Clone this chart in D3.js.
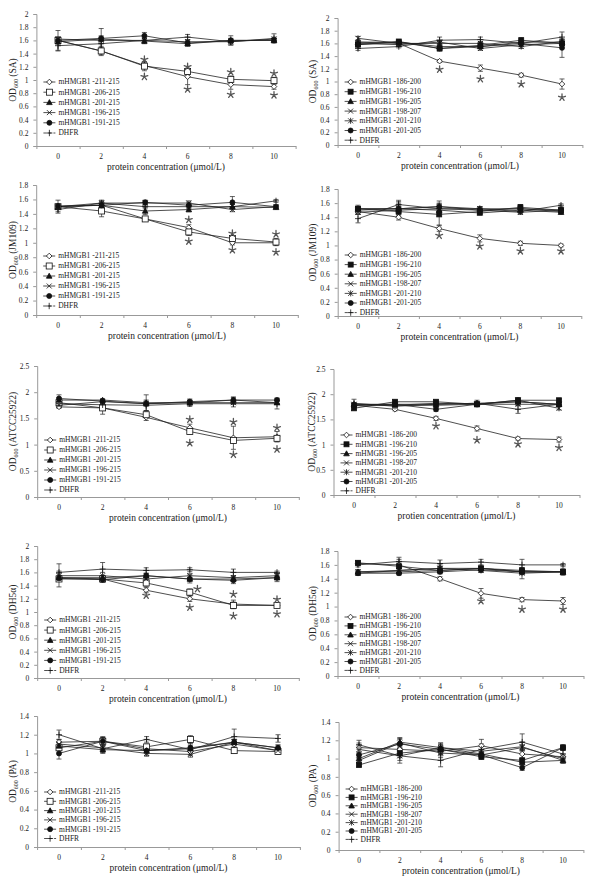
<!DOCTYPE html>
<html>
<head>
<meta charset="utf-8">
<script src="https://cdn.jsdelivr.net/npm/d3@7"></script>
<style>
  body { margin: 0; background: #fff; }
  text { font-family: "Liberation Serif", "Times New Roman", serif; fill: #222; }
</style>
</head>
<body>
<svg id="chart" width="600" height="883"></svg>
<script>
// x categories (protein concentration, umol/L)
const concentrations = [0, 2, 4, 6, 8, 10];

// series names + marker shapes
const leftNames = ['mHMGB1 -211-215', 'mHMGB1 -206-215', 'mHMGB1 -201-215', 'mHMGB1 -196-215', 'mHMGB1 -191-215', 'DHFR'];
const leftShapes = ['diamond', 'square', 'triangle', 'cross', 'circle', 'plus'];
const rightNames = ['mHMGB1 -186-200', 'mHMGB1 -196-210', 'mHMGB1 -196-205', 'mHMGB1 -198-207', 'mHMGB1 -201-210', 'mHMGB1 -201-205', 'DHFR'];
const rightShapes = ['diamond', 'squareFilled', 'triangle', 'cross', 'asterisk', 'circle', 'plus'];

// y tick labels
const ticksTo2 = [0, 0.2, 0.4, 0.6, 0.8, 1, 1.2, 1.4, 1.6, 1.8, 2];
const ticksTo18 = [0, 0.2, 0.4, 0.6, 0.8, 1, 1.2, 1.4, 1.6, 1.8];
const ticksTo25 = [0, 0.5, 1, 1.5, 2, 2.5];
const ticksTo14 = [0, 0.2, 0.4, 0.6, 0.8, 1, 1.2, 1.4];

// SA
const saLeftVals = [
  [1.60, 1.44, 1.22, 1.05, 0.93, 0.90],
  [1.60, 1.44, 1.21, 1.13, 1.01, 0.99],
  [1.58, 1.62, 1.59, 1.55, 1.60, 1.60],
  [1.62, 1.60, 1.60, 1.58, 1.58, 1.62],
  [1.60, 1.63, 1.67, 1.56, 1.60, 1.60],
  [1.52, 1.55, 1.60, 1.65, 1.58, 1.63]];
const saLeftErrs = [
  [0.05, 0.05, 0.05, 0.12, 0.07, 0.04],
  [0.05, 0.07, 0.07, 0.05, 0.05, 0.05],
  [0.03, 0.03, 0.03, 0.04, 0.03, 0.03],
  [0.03, 0.05, 0.03, 0.03, 0.03, 0.03],
  [0.15, 0.15, 0.05, 0.03, 0.07, 0.03],
  [0.08, 0.12, 0.05, 0.04, 0.05, 0.07]];
const saLeftStars = [[4, 1.31], [4, 1.05], [6, 1.20], [6, 0.86], [8, 1.12], [8, 0.78], [10, 1.10], [10, 0.77]];

const saRightVals = [
  [1.62, 1.60, 1.32, 1.21, 1.10, 0.96],
  [1.58, 1.63, 1.52, 1.57, 1.65, 1.60],
  [1.62, 1.62, 1.55, 1.55, 1.62, 1.62],
  [1.60, 1.58, 1.62, 1.52, 1.58, 1.60],
  [1.68, 1.60, 1.60, 1.60, 1.55, 1.63],
  [1.58, 1.62, 1.52, 1.55, 1.60, 1.53],
  [1.52, 1.55, 1.65, 1.66, 1.60, 1.70]];
const saRightErrs = [
  [0.03, 0.03, 0.02, 0.05, 0.03, 0.08],
  [0.03, 0.02, 0.04, 0.03, 0.04, 0.03],
  [0.03, 0.02, 0.03, 0.03, 0.03, 0.03],
  [0.02, 0.02, 0.03, 0.03, 0.03, 0.03],
  [0.03, 0.02, 0.03, 0.03, 0.03, 0.03],
  [0.03, 0.02, 0.03, 0.03, 0.03, 0.15],
  [0.03, 0.02, 0.05, 0.04, 0.04, 0.08]];
const saRightStars = [[4, 1.19], [6, 1.04], [8, 0.96], [10, 0.75]];

// JM109
const jmLeftVals = [
  [1.50, 1.52, 1.33, 1.21, 1.00, 1.00],
  [1.50, 1.44, 1.33, 1.15, 1.06, 1.01],
  [1.50, 1.52, 1.44, 1.46, 1.50, 1.49],
  [1.50, 1.55, 1.55, 1.55, 1.46, 1.50],
  [1.51, 1.52, 1.56, 1.52, 1.56, 1.50],
  [1.46, 1.55, 1.50, 1.50, 1.50, 1.58]];
const jmLeftErrs = [
  [0.03, 0.03, 0.03, 0.04, 0.03, 0.03],
  [0.03, 0.08, 0.03, 0.05, 0.04, 0.05],
  [0.03, 0.03, 0.05, 0.03, 0.03, 0.02],
  [0.03, 0.03, 0.03, 0.03, 0.03, 0.02],
  [0.08, 0.05, 0.03, 0.04, 0.08, 0.02],
  [0.05, 0.04, 0.03, 0.03, 0.03, 0.02]];
const jmLeftStars = [[6, 1.32], [6, 1.02], [8, 1.13], [8, 0.90], [10, 1.12], [10, 0.87]];

const jmRightVals = [
  [1.48, 1.40, 1.24, 1.10, 1.03, 1.00],
  [1.52, 1.48, 1.44, 1.48, 1.54, 1.50],
  [1.52, 1.52, 1.50, 1.46, 1.50, 1.47],
  [1.47, 1.50, 1.52, 1.50, 1.47, 1.50],
  [1.50, 1.52, 1.55, 1.52, 1.52, 1.48],
  [1.52, 1.52, 1.55, 1.50, 1.52, 1.50],
  [1.38, 1.58, 1.52, 1.52, 1.48, 1.57]];
const jmRightErrs = [
  [0.03, 0.04, 0.04, 0.05, 0.03, 0.02],
  [0.03, 0.03, 0.15, 0.03, 0.04, 0.03],
  [0.03, 0.03, 0.03, 0.03, 0.03, 0.02],
  [0.03, 0.10, 0.03, 0.03, 0.03, 0.03],
  [0.03, 0.10, 0.05, 0.03, 0.03, 0.03],
  [0.05, 0.05, 0.08, 0.04, 0.06, 0.03],
  [0.06, 0.06, 0.04, 0.03, 0.03, 0.02]];
const jmRightStars = [[4, 1.14], [6, 0.99], [8, 0.92], [10, 0.92]];

// ATCC25922
const atLeftVals = [
  [1.72, 1.70, 1.52, 1.32, 1.13, 1.15],
  [1.80, 1.70, 1.57, 1.25, 1.08, 1.12],
  [1.85, 1.85, 1.80, 1.80, 1.85, 1.80],
  [1.75, 1.82, 1.78, 1.80, 1.80, 1.80],
  [1.88, 1.83, 1.78, 1.82, 1.85, 1.85],
  [1.78, 1.76, 1.75, 1.78, 1.78, 1.78]];
const atLeftErrs = [
  [0.03, 0.12, 0.06, 0.07, 0.22, 0.10],
  [0.03, 0.05, 0.05, 0.05, 0.05, 0.05],
  [0.05, 0.03, 0.15, 0.05, 0.05, 0.03],
  [0.03, 0.03, 0.03, 0.03, 0.03, 0.03],
  [0.07, 0.03, 0.05, 0.05, 0.06, 0.04],
  [0.05, 0.03, 0.10, 0.05, 0.06, 0.10]];
const atLeftStars = [[6, 1.48], [6, 1.03], [8, 1.43], [8, 0.81], [10, 1.32], [10, 0.91]];

const atRightVals = [
  [1.78, 1.70, 1.52, 1.32, 1.12, 1.10],
  [1.72, 1.85, 1.85, 1.80, 1.88, 1.88],
  [1.80, 1.80, 1.80, 1.82, 1.85, 1.80],
  [1.78, 1.78, 1.78, 1.80, 1.80, 1.80],
  [1.80, 1.78, 1.82, 1.80, 1.88, 1.72],
  [1.78, 1.80, 1.70, 1.80, 1.85, 1.80],
  [1.82, 1.76, 1.80, 1.82, 1.70, 1.80]];
const atRightErrs = [
  [0.03, 0.03, 0.04, 0.05, 0.03, 0.05],
  [0.03, 0.03, 0.03, 0.03, 0.04, 0.03],
  [0.03, 0.03, 0.03, 0.03, 0.04, 0.03],
  [0.03, 0.03, 0.03, 0.05, 0.03, 0.03],
  [0.03, 0.03, 0.03, 0.03, 0.05, 0.03],
  [0.03, 0.03, 0.04, 0.03, 0.04, 0.03],
  [0.08, 0.05, 0.05, 0.06, 0.08, 0.04]];
const atRightStars = [[4, 1.37], [6, 1.09], [8, 1.01], [10, 0.94]];

// DH5a
const dhLeftVals = [
  [1.52, 1.50, 1.33, 1.20, 1.12, 1.10],
  [1.50, 1.50, 1.44, 1.30, 1.10, 1.10],
  [1.52, 1.52, 1.55, 1.50, 1.50, 1.52],
  [1.55, 1.55, 1.50, 1.55, 1.52, 1.55],
  [1.51, 1.49, 1.55, 1.50, 1.48, 1.52],
  [1.60, 1.65, 1.63, 1.64, 1.60, 1.60]];
const dhLeftErrs = [
  [0.03, 0.04, 0.04, 0.04, 0.06, 0.03],
  [0.12, 0.05, 0.05, 0.05, 0.05, 0.03],
  [0.03, 0.03, 0.03, 0.03, 0.03, 0.03],
  [0.03, 0.05, 0.03, 0.03, 0.03, 0.03],
  [0.03, 0.03, 0.03, 0.06, 0.05, 0.06],
  [0.13, 0.10, 0.04, 0.03, 0.05, 0.02]];
const dhLeftStars = [[4, 1.25], [6.35, 1.35], [6, 1.07], [8, 1.27], [8, 0.94], [10, 1.19], [10, 0.97]];

const dhRightVals = [
  [1.62, 1.60, 1.40, 1.19, 1.10, 1.08],
  [1.63, 1.58, 1.52, 1.55, 1.52, 1.50],
  [1.50, 1.50, 1.52, 1.55, 1.50, 1.50],
  [1.48, 1.52, 1.55, 1.55, 1.50, 1.50],
  [1.50, 1.52, 1.55, 1.52, 1.48, 1.50],
  [1.48, 1.48, 1.50, 1.53, 1.50, 1.50],
  [1.60, 1.65, 1.62, 1.64, 1.60, 1.60]];
const dhRightErrs = [
  [0.03, 0.03, 0.03, 0.07, 0.03, 0.05],
  [0.03, 0.10, 0.03, 0.03, 0.04, 0.03],
  [0.03, 0.03, 0.03, 0.03, 0.03, 0.03],
  [0.03, 0.03, 0.05, 0.03, 0.03, 0.05],
  [0.03, 0.03, 0.03, 0.03, 0.08, 0.03],
  [0.03, 0.03, 0.03, 0.03, 0.03, 0.03],
  [0.03, 0.06, 0.05, 0.04, 0.08, 0.02]];
const dhRightStars = [[6, 1.08], [8, 0.96], [10, 0.96]];

// PA
const paLeftVals = [
  [1.12, 1.13, 1.05, 1.02, 1.10, 1.03],
  [1.06, 1.13, 1.07, 1.15, 1.03, 1.02],
  [1.08, 1.04, 1.03, 1.05, 1.12, 1.06],
  [1.10, 1.06, 1.00, 0.99, 1.12, 1.03],
  [1.00, 1.13, 1.03, 1.06, 1.12, 1.06],
  [1.20, 1.05, 1.15, 1.04, 1.18, 1.16]];
const paLeftErrs = [
  [0.03, 0.04, 0.03, 0.04, 0.03, 0.03],
  [0.03, 0.04, 0.03, 0.04, 0.03, 0.03],
  [0.03, 0.03, 0.03, 0.03, 0.03, 0.03],
  [0.03, 0.03, 0.03, 0.03, 0.03, 0.03],
  [0.06, 0.05, 0.05, 0.05, 0.03, 0.03],
  [0.05, 0.05, 0.03, 0.05, 0.08, 0.04]];
const paLeftStars = [];

const paRightVals = [
  [1.12, 1.10, 1.08, 1.14, 1.05, 1.02],
  [0.93, 1.06, 1.10, 1.02, 0.98, 1.12],
  [1.00, 1.18, 1.12, 1.05, 0.96, 0.98],
  [1.10, 1.03, 1.12, 1.08, 1.13, 0.98],
  [0.98, 1.17, 1.06, 1.04, 1.12, 1.00],
  [1.04, 1.16, 1.10, 1.04, 0.90, 1.12],
  [1.15, 1.03, 0.98, 1.10, 1.18, 1.05]];
const paRightErrs = [
  [0.05, 0.05, 0.05, 0.07, 0.05, 0.03],
  [0.02, 0.05, 0.05, 0.03, 0.03, 0.03],
  [0.03, 0.05, 0.05, 0.03, 0.03, 0.03],
  [0.05, 0.05, 0.05, 0.05, 0.05, 0.03],
  [0.03, 0.05, 0.05, 0.03, 0.03, 0.03],
  [0.03, 0.05, 0.05, 0.03, 0.03, 0.03],
  [0.05, 0.08, 0.07, 0.06, 0.09, 0.05]];
const paRightStars = [];

// layout of each panel (pixels) + which data it uses
const panels = [
  { c0: 58, c10: 274, yTop: 14, yZero: 146, lgTop: 82, lgStep: 10.2, ylX: 13, strain: 'SA', xl: 'protein concentration (μmol/L)',
    vals: saLeftVals, errs: saLeftErrs, stars: saLeftStars, ticks: ticksTo2, names: leftNames, shapes: leftShapes },
  { c0: 358, c10: 562, yTop: 18, yZero: 145, lgTop: 82, lgStep: 9.7, ylX: 313, strain: 'SA', xl: 'protein concentration (μmol/L)',
    vals: saRightVals, errs: saRightErrs, stars: saRightStars, ticks: ticksTo2, names: rightNames, shapes: rightShapes },
  { c0: 58, c10: 276, yTop: 185, yZero: 315, lgTop: 256, lgStep: 10, ylX: 13, strain: 'JM109', xl: 'protein concentration (μmol/L)',
    vals: jmLeftVals, errs: jmLeftErrs, stars: jmLeftStars, ticks: ticksTo18, names: leftNames, shapes: leftShapes },
  { c0: 358, c10: 561, yTop: 189, yZero: 316, lgTop: 255, lgStep: 9.6, ylX: 313, strain: 'JM109', xl: 'protein concentration (μmol/L)',
    vals: jmRightVals, errs: jmRightErrs, stars: jmRightStars, ticks: ticksTo18, names: rightNames, shapes: rightShapes },
  { c0: 59, c10: 277, yTop: 366, yZero: 497, lgTop: 440, lgStep: 10, ylX: 13, strain: 'ATCC25922', xl: 'protein concentration (μmol/L)',
    vals: atLeftVals, errs: atLeftErrs, stars: atLeftStars, ticks: ticksTo25, names: leftNames, shapes: leftShapes },
  { c0: 354, c10: 559, yTop: 369, yZero: 495, lgTop: 435, lgStep: 9.3, ylX: 312, strain: 'ATCC25922', xl: 'protien concentration (μmol/L)',
    vals: atRightVals, errs: atRightErrs, stars: atRightStars, ticks: ticksTo25, names: rightNames, shapes: rightShapes },
  { c0: 59, c10: 277, yTop: 546, yZero: 678, lgTop: 620, lgStep: 10.1, ylX: 13, strain: 'DH5α', xl: 'protein concentration (μmol/L)',
    vals: dhLeftVals, errs: dhLeftErrs, stars: dhLeftStars, ticks: ticksTo2, names: leftNames, shapes: leftShapes },
  { c0: 358, c10: 563, yTop: 551, yZero: 676, lgTop: 617, lgStep: 8.9, ylX: 313, strain: 'DH5α', xl: 'protein concentration (μmol/L)',
    vals: dhRightVals, errs: dhRightErrs, stars: dhRightStars, ticks: ticksTo18, names: rightNames, shapes: rightShapes },
  { c0: 59, c10: 278, yTop: 716, yZero: 847, lgTop: 792, lgStep: 9.3, ylX: 13, strain: 'PA', xl: 'protein concentration (μmol/L)',
    vals: paLeftVals, errs: paLeftErrs, stars: paLeftStars, ticks: ticksTo14, names: leftNames, shapes: leftShapes },
  { c0: 359, c10: 563, yTop: 722, yZero: 850, lgTop: 789, lgStep: 8.4, ylX: 313, strain: 'PA', xl: 'protein concentration (μmol/L)',
    vals: paRightVals, errs: paRightErrs, stars: paRightStars, ticks: ticksTo14, names: rightNames, shapes: rightShapes },
];

const svg = d3.select('#chart');

// marker drawing
const drawMarker = (g, shape, x, y) => {
  const m = g.append('g').attr('transform', `translate(${x},${y})`)
    .attr('stroke', '#111').attr('stroke-width', 0.8);
  if (shape === 'diamond') {
    m.append('path').attr('d', 'M0,-2.8L2.8,0L0,2.8L-2.8,0Z').attr('fill', '#fff');
  } else if (shape === 'square') {
    m.append('rect').attr('x', -3).attr('y', -3).attr('width', 6).attr('height', 6).attr('fill', '#fff');
  } else if (shape === 'squareFilled') {
    m.append('rect').attr('x', -2.5).attr('y', -2.5).attr('width', 5).attr('height', 5).attr('fill', '#111');
  } else if (shape === 'triangle') {
    m.append('path').attr('d', 'M0,-2.8L2.8,2.2L-2.8,2.2Z').attr('fill', '#111');
  } else if (shape === 'circle') {
    m.append('circle').attr('r', 2.5).attr('fill', '#111');
  } else if (shape === 'cross' || shape === 'asterisk') {
    m.append('path').attr('d', 'M-2.5,-2.5L2.5,2.5M-2.5,2.5L2.5,-2.5').attr('fill', 'none');
    if (shape === 'asterisk') m.append('path').attr('d', 'M0,-3L0,3');
  } else if (shape === 'plus') {
    m.append('path').attr('d', 'M-3,0L3,0M0,-3.2L0,3.2').attr('fill', 'none');
  }
};

// five-armed significance star
const starPath = d3.range(5).map(k => {
  const a = (-90 + k * 72) * Math.PI / 180;
  return `M0,0L${(3.6 * Math.cos(a)).toFixed(2)},${(3.6 * Math.sin(a)).toFixed(2)}`;
}).join('');

panels.forEach(p => {
  const half = (p.c10 - p.c0) / 10;
  const x = d3.scaleLinear().domain([-1, 11]).range([p.c0 - half, p.c10 + half]);
  const y = d3.scaleLinear().domain([0, d3.max(p.ticks)]).range([p.yZero, p.yTop]);
  const g = svg.append('g');

  // y axis
  const yAxis = g.append('g')
    .attr('transform', `translate(${x(-1)},0)`)
    .call(d3.axisLeft(y).tickValues(p.ticks).tickSize(3).tickPadding(5).tickFormat(d3.format('~g')));
  yAxis.select('.domain').attr('stroke', '#999');
  yAxis.selectAll('.tick line').attr('stroke', '#999');
  yAxis.selectAll('.tick text').attr('font-size', 7.5).attr('font-family', '"Liberation Serif", serif').attr('fill', '#222');

  // x axis with ticks on category boundaries
  const xAxis = g.append('g')
    .attr('transform', `translate(0,${p.yZero})`)
    .call(d3.axisBottom(x).tickValues([-1, 1, 3, 5, 7, 9, 11]).tickSize(3).tickSizeOuter(0).tickFormat(''));
  xAxis.select('.domain').attr('stroke', '#999');
  xAxis.selectAll('.tick line').attr('stroke', '#999');

  g.selectAll('text.cat')
    .data(concentrations)
    .join('text')
    .attr('class', 'cat')
    .attr('x', d => x(d))
    .attr('y', p.yZero + 13)
    .attr('text-anchor', 'middle')
    .attr('font-size', 7.5)
    .text(d => d);

  // axis titles
  g.append('text')
    .attr('x', (x(-1) + x(11)) / 2)
    .attr('y', p.yZero + 24)
    .attr('text-anchor', 'middle')
    .attr('font-size', 9.5)
    .text(p.xl);

  const yl = g.append('text')
    .attr('transform', `translate(${p.ylX},${(p.yTop + p.yZero) / 2}) rotate(-90)`)
    .attr('text-anchor', 'middle')
    .attr('dy', '0.35em')
    .attr('font-size', 9.5);
  yl.append('tspan').text('OD');
  yl.append('tspan').attr('font-size', 6).attr('dy', 1.5).text('600');
  yl.append('tspan').attr('dy', -1.5).text(` (${p.strain})`);

  const line = d3.line()
    .x((d, i) => x(concentrations[i]))
    .y(d => y(d));

  // series lines
  p.vals.forEach(vals => {
    g.append('path')
      .datum(vals)
      .attr('d', line)
      .attr('fill', 'none')
      .attr('stroke', '#222')
      .attr('stroke-width', 0.8);
  });

  // error bars
  p.vals.forEach((vals, s) => {
    vals.forEach((v, i) => {
      const e = p.errs[s][i];
      const cx = x(concentrations[i]);
      g.append('path')
        .attr('d', `M${cx},${y(v - e)}L${cx},${y(v + e)}M${cx - 2.5},${y(v - e)}L${cx + 2.5},${y(v - e)}M${cx - 2.5},${y(v + e)}L${cx + 2.5},${y(v + e)}`)
        .attr('fill', 'none')
        .attr('stroke', '#222')
        .attr('stroke-width', 0.7);
    });
  });

  // markers
  p.vals.forEach((vals, s) => {
    vals.forEach((v, i) => drawMarker(g, p.shapes[s], x(concentrations[i]), y(v)));
  });

  // significance asterisks
  g.selectAll('path.star')
    .data(p.stars)
    .join('path')
    .attr('class', 'star')
    .attr('transform', d => `translate(${x(d[0])},${y(d[1])})`)
    .attr('d', starPath)
    .attr('fill', 'none')
    .attr('stroke', '#555')
    .attr('stroke-width', 1.3)
    .attr('stroke-linecap', 'round');

  // legend
  const lx = x(-1) + 7;
  p.names.forEach((name, s) => {
    const ly = p.lgTop + s * p.lgStep;
    g.append('line')
      .attr('x1', lx).attr('x2', lx + 12)
      .attr('y1', ly).attr('y2', ly)
      .attr('stroke', '#222').attr('stroke-width', 0.8)
      .attr('stroke-dasharray', name === 'DHFR' ? '3,2' : null);
    drawMarker(g, p.shapes[s], lx + 6, ly);
    g.append('text')
      .attr('x', lx + 15)
      .attr('y', ly)
      .attr('dy', '0.33em')
      .attr('font-size', 7.5)
      .text(name);
  });
});
</script>
</body>
</html>
